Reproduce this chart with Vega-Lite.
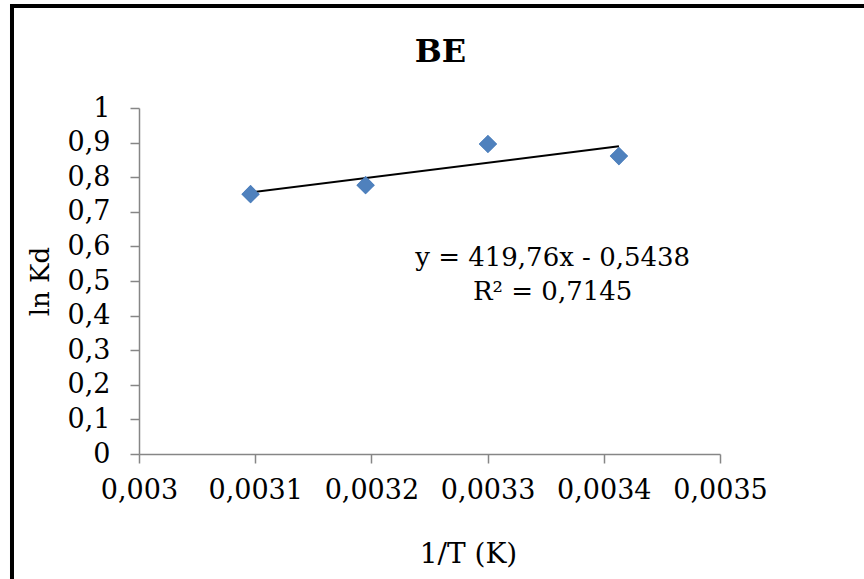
{
  "$schema": "https://vega.github.io/schema/vega-lite/v6.json",
  "width": 581,
  "height": 346,
  "autosize": {"type": "none"},
  "padding": {"left": 139, "top": 108, "right": 144, "bottom": 125},
  "background": "white",
  "title": {
    "text": "BE",
    "font": "DejaVu Serif",
    "fontSize": 32,
    "fontWeight": "bold",
    "color": "black",
    "anchor": "middle",
    "frame": "group",
    "baseline": "alphabetic",
    "dx": 11,
    "offset": -90
  },
  "config": {
    "view": {"stroke": null},
    "font": "DejaVu Serif",
    "axis": {
      "grid": false,
      "domainColor": "#868686",
      "domainWidth": 1.5,
      "tickColor": "#868686",
      "tickWidth": 1.5,
      "tickSize": 9,
      "labelFont": "DejaVu Serif",
      "labelFontSize": 27,
      "labelColor": "black",
      "labelOverlap": false,
      "labelFlush": false,
      "titleFont": "DejaVu Serif",
      "titleFontWeight": "normal",
      "titleColor": "black"
    },
    "axisX": {
      "labelPadding": 14,
      "titleFontSize": 28,
      "titleX": 329,
      "titleY": 114,
      "titleBaseline": "bottom"
    },
    "axisY": {
      "labelPadding": 20,
      "labelBaseline": "middle",
      "titleFontSize": 26,
      "titleX": -86,
      "titleY": 173,
      "titleAngle": 270,
      "titleAlign": "center",
      "titleBaseline": "bottom"
    }
  },
  "datasets": {
    "points": [
      {"invT": 0.003096, "lnKd": 0.751},
      {"invT": 0.003195, "lnKd": 0.777},
      {"invT": 0.0033003, "lnKd": 0.896},
      {"invT": 0.003413, "lnKd": 0.861}
    ],
    "labels": [
      {"invT": 0.003356, "lnKd": 0.566, "label": "y = 419,76x - 0,5438"},
      {"invT": 0.003356, "lnKd": 0.468, "label": "R² = 0,7145"}
    ]
  },
  "layer": [
    {
      "data": {"name": "points"},
      "mark": {"type": "point", "shape": "diamond", "filled": true, "size": 330, "color": "#4F81BD", "opacity": 1},
      "encoding": {
        "x": {
          "field": "invT",
          "type": "quantitative",
          "scale": {"domain": [0.003, 0.0035], "nice": false, "zero": false},
          "axis": {"title": "1/T (K)", "values": [0.003, 0.0031, 0.0032, 0.0033, 0.0034, 0.0035], "labelExpr": "replace(format(datum.value, '.4~f'), '.', ',')"}
        },
        "y": {
          "field": "lnKd",
          "type": "quantitative",
          "scale": {"domain": [0, 1], "nice": false},
          "axis": {"title": "ln Kd", "values": [0, 0.1, 0.2, 0.3, 0.4, 0.5, 0.6, 0.7, 0.8, 0.9, 1], "labelExpr": "replace(format(datum.value, '.1~f'), '.', ',')"}
        }
      }
    },
    {
      "data": {"name": "points"},
      "transform": [{"regression": "lnKd", "on": "invT", "method": "linear"}],
      "mark": {"type": "line", "color": "black", "strokeWidth": 2},
      "encoding": {
        "x": {"field": "invT", "type": "quantitative",
          "axis": {"title": "1/T (K)", "values": [0.003, 0.0031, 0.0032, 0.0033, 0.0034, 0.0035], "labelExpr": "replace(format(datum.value, '.4~f'), '.', ',')"}},
        "y": {"field": "lnKd", "type": "quantitative",
          "axis": {"title": "ln Kd", "values": [0, 0.1, 0.2, 0.3, 0.4, 0.5, 0.6, 0.7, 0.8, 0.9, 1], "labelExpr": "replace(format(datum.value, '.1~f'), '.', ',')"}}
      }
    },
    {
      "data": {"name": "points"},
      "mark": {"type": "point", "shape": "diamond", "filled": true, "size": 330, "color": "#4F81BD", "opacity": 1},
      "encoding": {
        "x": {"field": "invT", "type": "quantitative",
          "axis": {"title": "1/T (K)", "values": [0.003, 0.0031, 0.0032, 0.0033, 0.0034, 0.0035], "labelExpr": "replace(format(datum.value, '.4~f'), '.', ',')"}},
        "y": {"field": "lnKd", "type": "quantitative",
          "axis": {"title": "ln Kd", "values": [0, 0.1, 0.2, 0.3, 0.4, 0.5, 0.6, 0.7, 0.8, 0.9, 1], "labelExpr": "replace(format(datum.value, '.1~f'), '.', ',')"}}
      }
    },
    {
      "data": {"name": "labels"},
      "mark": {"type": "text", "font": "DejaVu Serif", "fontSize": 26, "color": "black", "align": "center", "baseline": "middle"},
      "encoding": {
        "x": {"field": "invT", "type": "quantitative",
          "axis": {"title": "1/T (K)", "values": [0.003, 0.0031, 0.0032, 0.0033, 0.0034, 0.0035], "labelExpr": "replace(format(datum.value, '.4~f'), '.', ',')"}},
        "y": {"field": "lnKd", "type": "quantitative",
          "axis": {"title": "ln Kd", "values": [0, 0.1, 0.2, 0.3, 0.4, 0.5, 0.6, 0.7, 0.8, 0.9, 1], "labelExpr": "replace(format(datum.value, '.1~f'), '.', ',')"}},
        "text": {"field": "label"}
      }
    },
    {
      "data": {"values": [{}]},
      "mark": {"type": "rect", "fill": null, "stroke": "black", "strokeWidth": 4, "clip": false},
      "encoding": {
        "x": {"datum": 0.0028907, "type": "quantitative",
          "axis": {"title": "1/T (K)", "values": [0.003, 0.0031, 0.0032, 0.0033, 0.0034, 0.0035], "labelExpr": "replace(format(datum.value, '.4~f'), '.', ',')"}},
        "x2": {"datum": 0.00366},
        "y": {"datum": 1.2948, "type": "quantitative",
          "axis": {"title": "ln Kd", "values": [0, 0.1, 0.2, 0.3, 0.4, 0.5, 0.6, 0.7, 0.8, 0.9, 1], "labelExpr": "replace(format(datum.value, '.1~f'), '.', ',')"}},
        "y2": {"datum": -0.45}
      }
    }
  ]
}
